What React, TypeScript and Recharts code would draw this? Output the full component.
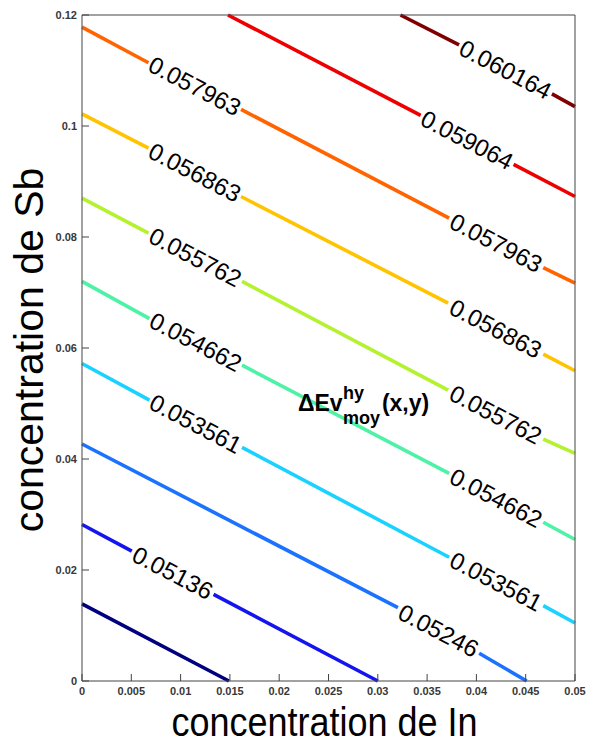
import React from 'react';
import { LineChart, Line, XAxis, YAxis, ReferenceDot } from 'recharts';

type Pt = [number, number];

// contour levels of ΔEv (eV) and their jet colours
const LEVELS = [0.05026, 0.05136, 0.05246, 0.053561, 0.054662, 0.055762, 0.056863, 0.057963, 0.059064, 0.060164];
const LEVEL_COLORS = ['#00007f', '#1414ee', '#1a72ff', '#1ad2ff', '#4ef2a6', '#b4f230', '#ffc300', '#ff6400', '#ee0000', '#7f0000'];

// each iso-line as (In, Sb) pieces, broken where the inline label sits
const ISO_0: Pt[][] = [[[0, 0.0139], [0.0149, 0]]];
const ISO_1: Pt[][] = [[[0, 0.0282], [0.00505, 0.0234]], [[0.01334, 0.01562], [0.03, 0]]];
const ISO_2: Pt[][] = [[[0, 0.0427], [0.03204, 0.01321]], [[0.04028, 0.00499], [0.0451, 0]]];
const ISO_3: Pt[][] = [[[0, 0.0572], [0.00684, 0.0506]], [[0.01623, 0.0421], [0.03723, 0.0223]], [[0.04678, 0.01357], [0.05, 0.01045]]];
const ISO_4: Pt[][] = [[[0, 0.072], [0.00684, 0.0653]], [[0.01623, 0.0569], [0.03723, 0.0374]], [[0.04678, 0.0286], [0.05, 0.0255]]];
const ISO_5: Pt[][] = [[[0, 0.087], [0.00674, 0.0807]], [[0.01623, 0.072], [0.03713, 0.0524]], [[0.04678, 0.0436], [0.05, 0.041]]];
const ISO_6: Pt[][] = [[[0, 0.1022], [0.00674, 0.096]], [[0.01613, 0.0873], [0.03713, 0.0681]], [[0.04678, 0.0589], [0.05, 0.0559]]];
const ISO_7: Pt[][] = [[[0, 0.1178], [0.00674, 0.1114]], [[0.01613, 0.103], [0.03723, 0.0834]], [[0.04678, 0.0745], [0.05, 0.0717]]];
const ISO_8: Pt[][] = [[[0.0148, 0.12], [0.03435, 0.1019]], [[0.04377, 0.0931], [0.05, 0.0873]]];
const ISO_9: Pt[][] = [[[0.0323, 0.12], [0.03824, 0.1146]], [[0.04766, 0.1058], [0.05, 0.1035]]];
const ISOLINES = [ISO_0, ISO_1, ISO_2, ISO_3, ISO_4, ISO_5, ISO_6, ISO_7, ISO_8, ISO_9];

// [level index, In, Sb] of every inline label
const LABEL_SPOTS: [number, number, number][] = [
  [1, 0.0092, 0.01951],
  [2, 0.03616, 0.0091],
  [3, 0.01154, 0.04635], [3, 0.042, 0.01794],
  [4, 0.01154, 0.0611], [4, 0.042, 0.033],
  [5, 0.01149, 0.07635], [5, 0.04196, 0.048],
  [6, 0.01144, 0.09165], [6, 0.04196, 0.0635],
  [7, 0.01144, 0.1072], [7, 0.042, 0.07895],
  [8, 0.03906, 0.0975],
  [9, 0.04295, 0.1102],
];

const X_TICKS = [0, 0.005, 0.01, 0.015, 0.02, 0.025, 0.03, 0.035, 0.04, 0.045, 0.05];
const Y_TICKS = [0, 0.02, 0.04, 0.06, 0.08, 0.1, 0.12];
const NOTE_AT: Pt = [0.0219, 0.04865];

const FONT = '"Liberation Sans", Arial, sans-serif';
const AXIS_COLOR = '#444';
const LABEL_ANGLE = 27.6;

const tickStyle = { fontSize: 11, fontWeight: 700, fill: '#383838', fontFamily: FONT };

const IsoLabel = ({ cx, cy, text }: any) => (
  <text
    x={cx}
    y={cy}
    transform={`rotate(${LABEL_ANGLE} ${cx} ${cy})`}
    textAnchor="middle"
    dominantBaseline="central"
    fontSize={24}
    fontFamily={FONT}
    fill="#000"
  >
    {text}
  </text>
);

const Note = ({ cx, cy }: any) => (
  <g fontFamily={FONT} fontWeight={700} fill="#000">
    <text x={cx} y={cy} fontSize={23}>ΔEv</text>
    <text x={cx + 45} y={cy - 12} fontSize={18}>hy</text>
    <text x={cx + 45} y={cy + 13} fontSize={18}>moy</text>
    <text x={cx + 84} y={cy} fontSize={23}>(x,y)</text>
  </g>
);

const XTitle = ({ viewBox }: any) => (
  <text
    transform={`translate(${viewBox.x + viewBox.width / 2 - 4}, ${viewBox.y + 55}) scale(0.9, 1)`}
    textAnchor="middle"
    fontSize={40}
    fontFamily={FONT}
    fill="#000"
  >
    concentration de In
  </text>
);

const YTitle = ({ viewBox }: any) => (
  <text
    transform={`translate(${viewBox.x + 21}, ${viewBox.y + viewBox.height / 2 + 2}) rotate(-90)`}
    textAnchor="middle"
    fontSize={41}
    fontFamily={FONT}
    fill="#000"
  >
    concentration de Sb
  </text>
);

export default function App() {
  return (
    <div style={{ position: 'absolute', left: 0, top: 0, background: '#fff' }}>
      <LineChart width={592} height={744} margin={{ top: 14, right: 16, bottom: 0, left: 22 }}>
        <XAxis
          dataKey="x"
          type="number"
          domain={[0, 0.05]}
          ticks={X_TICKS}
          interval={0}
          height={63}
          tickSize={-7}
          tickMargin={13}
          stroke={AXIS_COLOR}
          tick={tickStyle}
          label={<XTitle />}
        />
        <XAxis
          xAxisId="top"
          orientation="top"
          type="number"
          domain={[0, 0.05]}
          ticks={X_TICKS}
          interval={0}
          height={1}
          tickSize={-7}
          tick={false}
          stroke={AXIS_COLOR}
        />
        <YAxis
          type="number"
          domain={[0, 0.12]}
          ticks={Y_TICKS}
          interval={0}
          width={60}
          tickSize={-7}
          tickMargin={12}
          stroke={AXIS_COLOR}
          tick={tickStyle}
          label={<YTitle />}
        />
        <YAxis
          yAxisId="right"
          orientation="right"
          type="number"
          domain={[0, 0.12]}
          ticks={Y_TICKS}
          interval={0}
          width={1}
          tickSize={-7}
          tick={false}
          stroke={AXIS_COLOR}
        />
        {ISOLINES.map((pieces, li) =>
          pieces.map((seg, si) => (
            <Line
              key={`iso-${li}-${si}`}
              data={seg.map(([x, y]) => ({ x, y }))}
              dataKey="y"
              type="linear"
              stroke={LEVEL_COLORS[li]}
              strokeWidth={3.6}
              dot={false}
              activeDot={false}
              isAnimationActive={false}
            />
          ))
        )}
        {LABEL_SPOTS.map(([li, x, y], i) => (
          <ReferenceDot
            key={`lbl-${i}`}
            x={x}
            y={y}
            r={0}
            shape={(p: any) => <IsoLabel cx={p.cx} cy={p.cy} text={String(LEVELS[li])} />}
          />
        ))}
        <ReferenceDot x={NOTE_AT[0]} y={NOTE_AT[1]} r={0} shape={(p: any) => <Note cx={p.cx} cy={p.cy} />} />
      </LineChart>
    </div>
  );
}
